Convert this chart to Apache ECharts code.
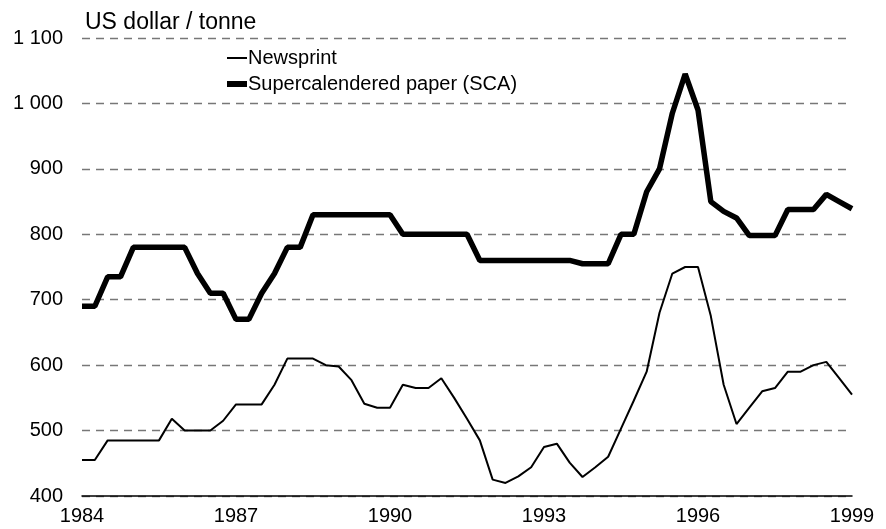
<!DOCTYPE html>
<html>
<head>
<meta charset="utf-8">
<script src="https://cdn.jsdelivr.net/npm/echarts@6/dist/echarts.min.js"></script>
<style>
  html, body { margin: 0; padding: 0; background: #fff; }
  #chart { width: 886px; height: 529px; }
</style>
</head>
<body>
<div id="chart"></div>
<script>
// quarterly prices, 1984 Q1 .. 1999 Q1
const firstYear = 1984
const lastYear = 1999

const newsprint = [
  455, 455, 485, 485, 485, 485, 485, 518, 500, 500,
  500, 515, 540, 540, 540, 570, 610, 610, 610, 600,
  598, 577, 541, 535, 535, 570, 565, 565, 580, 550,
  518, 485, 425, 420, 430, 444, 475, 480, 451, 429,
  444, 460, 503, 546, 590, 680, 740, 750, 750, 675,
  570, 510, 535, 560, 565, 590, 590, 600, 605, 580,
  555
]

const sca = [
  690, 690, 735, 735, 780, 780, 780, 780, 780, 740,
  710, 710, 670, 670, 710, 740, 780, 780, 830, 830,
  830, 830, 830, 830, 830, 800, 800, 800, 800, 800,
  800, 760, 760, 760, 760, 760, 760, 760, 760, 755,
  755, 755, 800, 800, 865, 900, 985, 1045, 990, 850,
  835, 825, 798, 798, 798, 838, 838, 838, 861, 850,
  839
]

const seriesNames = ['Newsprint', 'Supercalendered paper (SCA)']

const periods = []
for (let y = firstYear; y <= lastYear; y++) {
  for (let q = 1; q <= 4; q++) {
    if (y === lastYear && q > 1) break
    periods.push(y + ' Q' + q)
  }
}

const font = 'Liberation Sans, Arial, sans-serif'

const myChart = echarts.init(document.getElementById('chart'), null, { renderer: 'canvas' })
const option = {
  animation: false,
  textStyle: { fontFamily: font, color: '#000' },
  title: {
    text: 'US dollar / tonne',
    left: 80,
    top: 6,
    textStyle: { fontFamily: font, fontSize: 23, fontWeight: 'normal', color: '#000' }
  },
  legend: {
    orient: 'vertical',
    left: 222,
    top: 43,
    itemWidth: 20,
    itemHeight: 14,
    itemGap: 6,
    symbolKeepAspect: true,
    textStyle: { fontFamily: font, fontSize: 20, color: '#000', padding: [0, 0, 0, -4] },
    data: [
      { name: seriesNames[0], icon: 'path://M0,0L20,0L20,2L0,2Z', itemStyle: { color: '#000' } },
      { name: seriesNames[1], icon: 'path://M0,0L20,0L20,6L0,6Z', itemStyle: { color: '#000' } }
    ]
  },
  grid: { left: 82, right: 34, top: 38, bottom: 33, containLabel: false },
  xAxis: {
    type: 'category',
    data: periods,
    boundaryGap: false,
    axisLine: { lineStyle: { color: '#000', width: 1.5 } },
    axisTick: { show: false },
    axisLabel: {
      interval: 11,
      margin: 10,
      fontSize: 20,
      color: '#000',
      fontFamily: font,
      formatter: v => v.slice(0, 4)
    },
    splitLine: { show: false }
  },
  yAxis: {
    type: 'value',
    min: 400,
    max: 1100,
    interval: 100,
    axisLine: { show: false },
    axisTick: { show: false },
    axisLabel: {
      margin: 19,
      fontSize: 20,
      color: '#000',
      fontFamily: font,
      formatter: v => String(v).replace(/\B(?=(\d{3})+(?!\d))/g, ' ')
    },
    splitLine: { lineStyle: { color: '#777', type: [8, 6], width: 1.3 } }
  },
  series: [
    {
      name: seriesNames[0],
      type: 'line',
      data: newsprint,
      symbol: 'none',
      lineStyle: { color: '#000', width: 2 },
      itemStyle: { color: '#000' }
    },
    {
      name: seriesNames[1],
      type: 'line',
      data: sca,
      symbol: 'none',
      lineStyle: { color: '#000', width: 5.5 },
      itemStyle: { color: '#000' }
    }
  ]
}
myChart.setOption(option)
</script>
</body>
</html>
